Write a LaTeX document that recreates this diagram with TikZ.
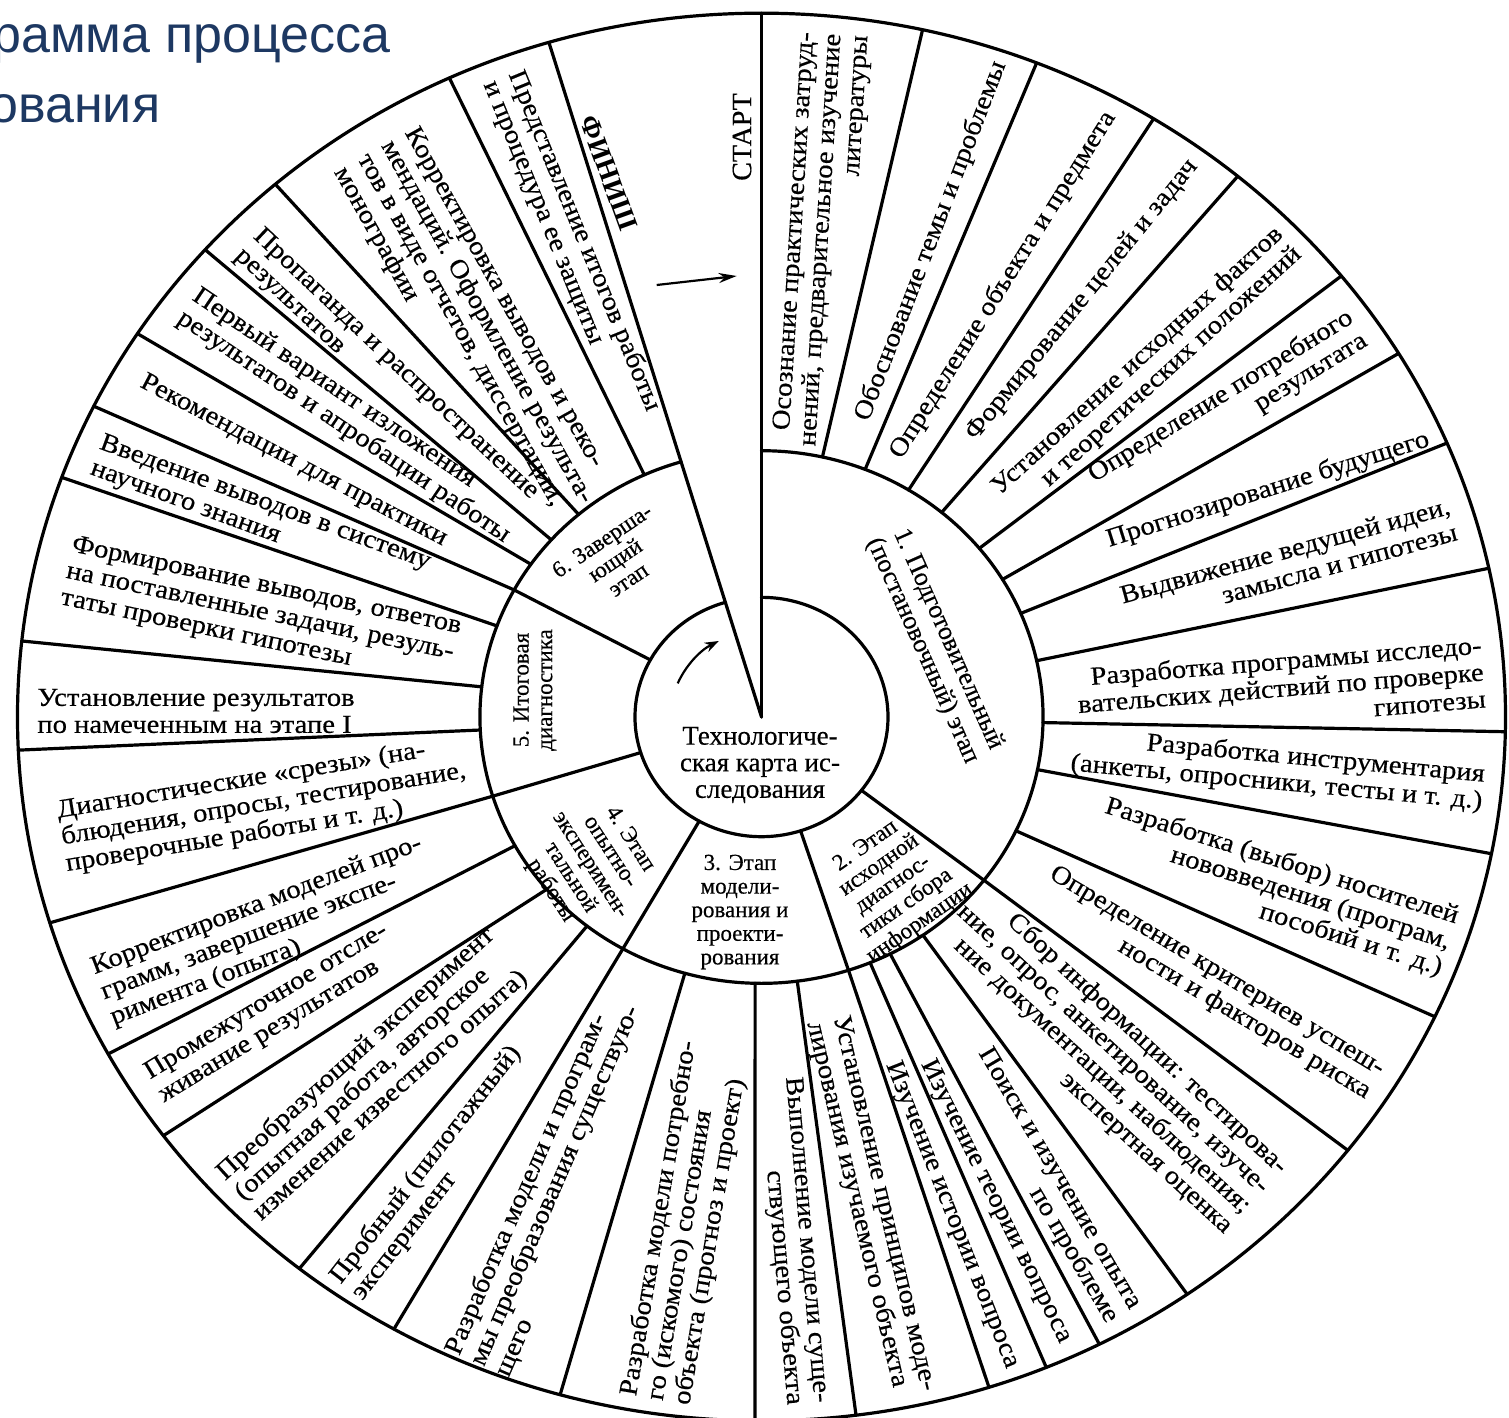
\documentclass[tikz,border=0pt]{standalone}
\usepackage{fontspec}
\setmainfont{Liberation Serif}
\newfontfamily\wfont[FakeStretch=1.1,FakeBold=0.4]{Liberation Serif}
\newfontfamily\sfont[FakeBold=0.4]{Liberation Serif}
\newfontfamily\titlefont{Liberation Sans}
\usetikzlibrary{arrows.meta}
\definecolor{titleblue}{RGB}{29,56,98}
\tikzset{
  ln/.style={line width=1.6pt, line cap=round},
  wt/.style={font=\wfont\fontsize{13}{13.5}\selectfont, inner sep=0pt},
  st/.style={font=\sfont\fontsize{11.5}{11.8}\selectfont, inner sep=0pt, align=center},
  ttl/.style={font=\titlefont\fontsize{26}{30}\selectfont, text=titleblue, inner sep=0pt, anchor=base west},
}
\begin{document}
\begin{tikzpicture}[x=0.5pt,y=0.5pt]
\useasboundingbox[fill=white] (-761.5,717) rectangle (747.5,-701);
% ---------- geometry (the scan is slightly elliptical) ----------
\begin{scope}[yscale=0.946]
  \draw[ln] (0,0) circle[radius=744];
  \draw[ln] (106.6:281.5) arc[start angle=106.6, end angle=450, radius=281.5];
  \draw[ln] (106.6:126.5) arc[start angle=106.6, end angle=450, radius=126.5];
  \draw[ln] (0,0) -- (90:744);
  \draw[ln] (0,0) -- (106.6:744);
  \foreach \a in {-37.8,-72,-119.5,-162.7,151.5}
    \draw[ln] (\a:126.5) -- (\a:281.5);
  \foreach \i/\o in {77.5/77.5, 68.4/68.3, 58.5/58.2, 50.2/50.2, 39.3/38.8, 31.1/31.1,
      22.9/22.9, 12.2/12.2, -1.2/-1.2, -11.4/-11.2, -25.3/-25.2,
      -37.8/-38, -55/-55.1, -62.8/-63, -67.3/-67.5, -72/-72.2,
      -82.7/-82.7, -91.3/-90.5, -105.8/-105.7, -119.5/-119.6,
      -128.3/-128.4, -139.7/-143.5, -151.1/-151.4, -162.7/-163,
      -177.2/-177.3, 173.5/173.8, 160/160.1,
      151.5/153.8, 145/147, 138.3/138.4, 130.5/130.8, 114.6/114.8}
    \draw[ln] (\i:281.5) -- (\o:744);
  \draw[line width=1.1pt, -{Stealth[length=7pt,width=5pt]}] (157:91) arc[start angle=157, end angle=118, radius=91];
\end{scope}
% start arrow
\coordinate (sa) at (-104.8,432);
\coordinate (sb) at (-24.8,441);
\draw[line width=1.1pt, -{Stealth[length=9pt,width=5pt]}] (sa) -- (sb);
% ---------- title ----------
\node[ttl] (title1) at (-769.5,664) {рамма процесса};
\node[ttl] (title2) at (-772.5,594) {ования};
% ---------- centre ----------
\node[font=\sfont\fontsize{13.5}{13.3}\selectfont, inner sep=0pt, align=center] (centre) at (-1.5,-48) {Технологиче-\\ская карта ис-\\следования};
% ---------- stages ----------
\node[st, font=\sfont\fontsize{13}{14}\selectfont, rotate=-66] (s1) at (173.5,72) {1. Подготовительный\\(постановочный) этап};
\node[st, rotate=35] (s2) at (131.5,-168) {2. Этап\\исходной\\диагнос-\\тики сбора\\информации};
\node[st] (s3) at (-21.5,-195) {3. Этап\\модели-\\рования и\\проекти-\\рования};
\node[st, rotate=-57] (s4) at (-171.5,-148) {4. Этап\\опытно-\\эксперимен-\\тальной\\работы};
\node[st, rotate=90] (s5) at (-226.5,27) {5. Итоговая\\диагностика};
\node[st, rotate=34] (s6) at (-146.5,157) {6. Заверша-\\ющий\\этап};
% ---------- start / finish ----------
\node[font=\sfont\fontsize{14}{14}\selectfont, inner sep=0pt, rotate=90] (start) at (-19.5,580) {СТАРТ};
\node[font=\bfseries\fontsize{14}{14}\selectfont, inner sep=0pt, rotate=-70] (finish) at (-152.6,543.8) {ФИНИШ};
% ---------- outer band texts ----------
\node[wt, rotate=86.5, align=right] (t1) at (60.5,477) {Осознание практических затруд-\\нений, предварительное изучение\\литературы};
\node[wt, rotate=69] (t2) at (169.5,476) {Обоснование темы и проблемы};
\node[wt, rotate=58] (t3) at (241.5,432) {Определение объекта и предмета};
\node[wt, rotate=51] (t4) at (320.5,417) {Формирование целей и задач};
\node[wt, rotate=42.4, align=right] (t5) at (385.4,346) {Установление исходных фактов\\и теоретических положений};
\node[wt, rotate=31.7, align=right] (t6) at (466.5,309) {Определение потребного\\результата};
\node[wt, rotate=17.5] (t7) at (506.5,227) {Прогнозирование будущего};
\node[wt, rotate=15.3, align=right] (t8) at (527,153.8) {Выдвижение ведущей идеи,\\замысла и гипотезы};
\node[wt, rotate=4.6, align=right] (t9) at (519.2,29.4) {Разработка программы исследо-\\вательских действий по проверке\\гипотезы};
\node[wt, rotate=-5.3, align=right] (t10) at (516.2,-52.6) {Разработка инструментария\\(анкеты, опросники, тесты и т. д.)};
\node[wt, rotate=-17.5, align=right] (t11) at (512.1,-170.5) {Разработка (выбор) носителей\\нововведения (програм,\\пособий и т. д.)};
\node[wt, rotate=-30.9, align=right] (t12) at (448.3,-266.3) {Определение критериев успеш-\\ности и факторов риска};
\node[wt, rotate=-42.7, align=right] (t13) at (342.3,-342.2) {Сбор информации: тестирова-\\ние, опрос, анкетирование, изуче-\\ние документации, наблюдения;\\экспертная оценка};
\node[wt, rotate=-59.5, align=right] (t14) at (285.9,-468.6) {Поиск и изучение опыта\\по проблеме};
\node[wt, rotate=-63.6] (t15) at (234.1,-484.5) {Изучение теории вопроса};
\node[wt, rotate=-68.4] (t16) at (190.2,-498) {Изучение истории вопроса};
\node[wt, rotate=-76.7, align=left] (t17) at (108.8,-489.5) {Установление принципов моде-\\лирования изучаемого объекта};
\node[wt, rotate=-85, align=right] (t18) at (31,-524) {Выполнение модели суще-\\ствующего объекта};
\node[wt, rotate=80.5, align=left] (t19) at (-75.7,-505.8) {Разработка модели потребно-\\го (искомого) состояния\\объекта (прогноз и проект)};
\node[wt, rotate=66.5, align=left] (t20) at (-206,-468.8) {Разработка модели и програм-\\мы преобразования существую-\\щего};
\node[wt, rotate=52.1, align=left] (t21) at (-325,-456) {Пробный (пилотажный)\\эксперимент};
\node[wt, rotate=42.1, align=left] (t22) at (-387.6,-357.2) {Преобразующий эксперимент\\(опытная работа, авторское\\изменение известного опыта)};
\node[wt, rotate=31.3, align=left] (t23) at (-488,-296.5) {Промежуточное отсле-\\живание результатов};
\node[wt, rotate=20.9, align=left] (t24) at (-495.2,-214) {Корректировка моделей про-\\грамм, завершение экспе-\\римента (опыта)};
\node[wt, rotate=9.4, align=left] (t25) at (-497.7,-87.8) {Диагностические «срезы» (на-\\блюдения, опросы, тестирование,\\проверочные работы и т. д.)};
\node[wt, anchor=west, align=left] (t26) at (-724.5,6) {Установление результатов\\по намеченным на этапе I};
\node[wt, rotate=-11.9, align=left] (t27) at (-500.5,104) {Формирование выводов, ответов\\на поставленные задачи, резуль-\\таты проверки гипотезы};
\node[wt, rotate=-20.1, align=left] (t28) at (-501.1,201) {Введение выводов в систему\\научного знания};
\node[wt, rotate=-27.7] (t29) at (-468,256) {Рекомендации для практики};
\node[wt, rotate=-34, align=left] (t30) at (-410.5,301) {Первый вариант изложения\\результатов и апробации работы};
\node[wt, rotate=-43.3, align=left] (t31) at (-375.2,342.9) {Пропаганда и распространение\\результатов};
\node[wt, rotate=-60.8, align=left] (t32) at (-287,388) {Корректировка выводов и реко-\\мендаций. Оформление результа-\\тов в виде отчетов, диссертации,\\монографии};
\node[wt, rotate=-67.7, align=left] (t33) at (-190.2,471) {Представление итогов работы\\и процедура ее защиты};
\end{tikzpicture}
\end{document}
